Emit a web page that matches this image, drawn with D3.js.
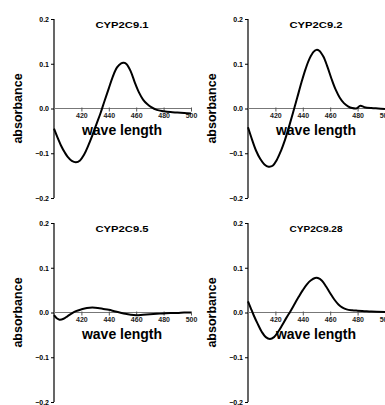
<!DOCTYPE html>
<html><head><meta charset="utf-8">
<script src="https://cdn.jsdelivr.net/npm/d3@7"></script>
<style>html,body{margin:0;padding:0;background:#fff;overflow:hidden}svg{display:block}</style>
</head><body>
<svg id="c" width="385" height="405"></svg>
<script>
const titles = ["CYP2C9.1", "CYP2C9.2", "CYP2C9.5", "CYP2C9.28"];
const xTicks = [420, 440, 460, 480, 500];
const yTicks = [0.2, 0.1, 0.0, -0.1, -0.2];
const xLabel = "wave length";
const yLabel = "absorbance";

const wl1  = [400,403,405,408,410,413,416,419,422,425,428,431,434,437,440,443,446,449,451,453,456,459,462,465,468,471,475,480,485,490,495,500];
const abs1 = [-0.045,-0.068,-0.082,-0.099,-0.108,-0.117,-0.120,-0.116,-0.103,-0.083,-0.060,-0.035,-0.010,0.018,0.045,0.072,0.092,0.101,0.102,0.099,0.083,0.058,0.036,0.020,0.010,0.003,-0.003,-0.006,-0.008,-0.009,-0.010,-0.011];

const wl2  = [400,403,406,409,412,415,418,421,424,427,430,433,436,439,442,445,448,450,452,455,458,461,464,467,470,473,476,479,482,485,490,495,500];
const abs2 = [-0.042,-0.07,-0.095,-0.113,-0.125,-0.130,-0.128,-0.115,-0.095,-0.070,-0.040,-0.008,0.025,0.058,0.088,0.112,0.127,0.131,0.129,0.116,0.093,0.066,0.042,0.024,0.012,0.005,0.001,0.000,0.006,0.003,0.001,0.000,-0.001];

const wl3  = [400,402,404,407,410,413,416,420,424,428,432,436,440,444,448,452,456,460,465,470,475,480,485,490,495,500];
const abs3 = [-0.006,-0.013,-0.016,-0.014,-0.008,-0.002,0.003,0.007,0.010,0.011,0.010,0.008,0.006,0.003,0.000,-0.003,-0.005,-0.006,-0.005,-0.004,-0.003,-0.002,-0.001,-0.001,0.000,0.000];

const wl4  = [400,402,404,407,410,413,416,419,422,425,428,431,434,437,440,443,446,449,451,454,457,460,463,466,469,472,476,480,485,490,500];
const abs4 = [0.025,0.010,-0.005,-0.025,-0.043,-0.055,-0.059,-0.055,-0.043,-0.028,-0.012,0.003,0.019,0.035,0.050,0.063,0.072,0.077,0.077,0.071,0.058,0.043,0.029,0.018,0.011,0.007,0.005,0.004,0.003,0.002,0.001];

const series = [[wl1, abs1], [wl2, abs2], [wl3, abs3], [wl4, abs4]];
const origins = [[54, 19], [248, 19], [54, 223], [248, 223]];
const W = 137, H = 179;

const svg = d3.select("#c");
const FONT = "'Liberation Sans', Arial, sans-serif";

series.forEach((s, i) => {
  const [ox, oy] = origins[i];
  const x = d3.scaleLinear().domain([400, 500]).range([ox, ox + W]);
  const y = d3.scaleLinear().domain([-0.2, 0.2]).range([oy + H, oy]);
  const g = svg.append("g");

  // y axis
  const ya = g.append("g").attr("transform", `translate(${ox},0)`)
    .call(d3.axisLeft(y).tickValues(yTicks).tickSize(3).tickPadding(2).tickFormat(d3.format(".1f")));
  ya.select(".domain").attr("stroke", "#000").attr("stroke-width", 1.2).attr("d", `M0,${oy}V${oy+H}`);
  ya.selectAll(".tick line").attr("stroke", "#000");
  ya.selectAll(".tick text").attr("font-family", FONT).attr("font-weight", "bold").attr("font-size", 7).attr("fill", "#000")
    .text(d => d3.format(".1f")(d).replace("-", "\u2212"));

  // x axis at zero
  const xa = g.append("g").attr("transform", `translate(0,${y(0)})`)
    .call(d3.axisBottom(x).tickValues(xTicks).tickSize(3).tickPadding(2).tickFormat(d3.format("d")));
  xa.select(".domain").attr("stroke", "#777").attr("stroke-width", 1).attr("d", `M${ox},0H${ox+W}`);
  xa.selectAll(".tick line").attr("stroke", "#555").attr("y1", -1);
  xa.selectAll(".tick text").attr("font-family", FONT).attr("font-weight", "bold").attr("font-size", 7).attr("fill", "#222");

  // axis titles
  g.append("text").attr("x", ox + 68).attr("y", y(0) + 26).attr("text-anchor", "middle")
    .attr("font-family", FONT).attr("font-weight", "bold").attr("font-size", 14).text(xLabel);
  g.append("text").attr("transform", `translate(${ox - 32},${y(0)}) rotate(-90)`).attr("text-anchor", "middle")
    .attr("font-family", FONT).attr("font-weight", "bold").attr("font-size", 12.5).text(yLabel);
  g.append("text").attr("x", ox + 68).attr("y", oy + 8.5).attr("text-anchor", "middle")
    .attr("font-family", FONT).attr("font-weight", "bold").attr("font-size", 9.5)
    .attr("textLength", 53).attr("lengthAdjust", "spacingAndGlyphs").text(titles[i]);

  // curve
  const pts = s[0].map((w, k) => [w, s[1][k]]);
  g.append("path").datum(pts)
    .attr("fill", "none").attr("stroke", "#000").attr("stroke-width", 2)
    .attr("d", d3.line().x(d => x(d[0])).y(d => y(d[1])).curve(d3.curveCatmullRom.alpha(0.5)));
});
</script>
</body></html>
